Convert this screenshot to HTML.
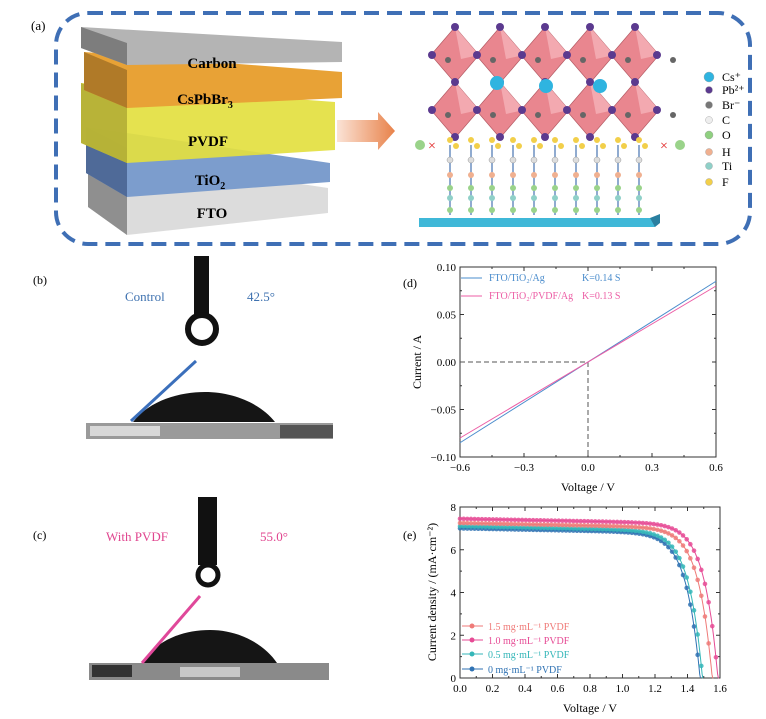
<!DOCTYPE html>
<html><head><meta charset="utf-8"><style>
html,body{margin:0;padding:0;background:#fff;}
svg{display:block;font-family:"Liberation Serif",serif;}
</style></head><body>
<svg id="s" width="766" height="719" viewBox="0 0 766 719" xmlns="http://www.w3.org/2000/svg">
<defs>
<linearGradient id="ar" x1="0" x2="1"><stop offset="0" stop-color="#fbe3d6"/><stop offset="1" stop-color="#e8824a"/></linearGradient>
</defs>
<text x="31" y="30" font-size="13">(a)</text>
<rect x="56" y="13" width="694" height="231" rx="32" fill="none" stroke="#3f6fb5" stroke-width="4" stroke-dasharray="15,8"/>
<polygon points="88,152 328,188 328,213 127,235 88,207" fill="#dcdcdc"/>
<polygon points="88,152 127,172 127,235 88,207" fill="#8f8f8f"/>
<polygon points="86,127 330,163 330,182 127,197 86,173" fill="#7c9dcd"/>
<polygon points="86,127 127,148 127,197 86,173" fill="#4f6a98"/>
<polygon points="81,83 335,102 335,150 127,163 81,143" fill="#e3e040" opacity="0.92"/>
<polygon points="81,83 127,100 127,163 81,143" fill="#b3ae35" opacity="0.9"/>
<polygon points="84,52 342,72 342,98 127,108 84,90" fill="#e8a236"/>
<polygon points="84,52 127,70 127,108 84,90" fill="#b07a28"/>
<polygon points="81,27 342,42 342,62 127,65 81,48" fill="#b4b4b4"/>
<polygon points="81,27 127,43 127,65 81,48" fill="#7d7d7d"/>
<g font-weight="bold" font-size="15" text-anchor="middle">
<text x="212" y="68">Carbon</text>
<text x="205" y="104">CsPbBr<tspan font-size="10" dy="4">3</tspan></text>
<text x="208" y="146">PVDF</text>
<text x="210" y="185">TiO<tspan font-size="10" dy="4">2</tspan></text>
<text x="212" y="218">FTO</text>
</g>
<polygon points="337,120 378,120 378,112 395,131 378,150 378,142 337,142" fill="url(#ar)"/>
<g id="crys"></g>
<rect x="419" y="218" width="236" height="9" fill="#3fb8d8"/>
<polygon points="650,218 660,214 660,223 655,227" fill="#2a7fa0"/>
<g id="leg" font-size="12"></g>
<text x="33" y="284" font-size="12">(b)</text>
<text x="125" y="301" font-size="13" fill="#3f72b0">Control</text>
<text x="247" y="301" font-size="13" fill="#3f72b0">42.5°</text>
<rect x="194" y="256" width="15" height="62" fill="#111"/>
<circle cx="202" cy="329" r="14" fill="none" stroke="#111" stroke-width="6"/>
<path d="M133,422 C150,400 180,392 205,392 C235,392 262,405 275,422 Z" fill="#151515"/>
<rect x="86" y="423" width="247" height="16" fill="#9a9a9a"/>
<rect x="90" y="426" width="70" height="10" fill="#d8d8d8"/>
<rect x="280" y="425" width="53" height="13" fill="#555"/>
<line x1="196" y1="361" x2="131" y2="421" stroke="#3b6fbb" stroke-width="3"/>
<text x="33" y="539" font-size="12">(c)</text>
<text x="106" y="541" font-size="13" fill="#e0458f">With PVDF</text>
<text x="260" y="541" font-size="13" fill="#e0458f">55.0°</text>
<rect x="198" y="497" width="19" height="68" fill="#111"/>
<circle cx="208" cy="575" r="10" fill="none" stroke="#111" stroke-width="5"/>
<path d="M142,663 C155,642 180,630 210,630 C240,630 265,645 277,663 Z" fill="#151515"/>
<rect x="89" y="663" width="240" height="17" fill="#8a8a8a"/>
<rect x="180" y="667" width="60" height="10" fill="#c8c8c8"/>
<rect x="92" y="665" width="40" height="12" fill="#333"/>
<line x1="200" y1="596" x2="142" y2="663" stroke="#e0489a" stroke-width="3"/>
<g id="d"></g>
<g id="e"></g>
</svg>
<script>
var NS="http://www.w3.org/2000/svg";
function el(p,t,a,txt){var e=document.createElementNS(NS,t);for(var k in a)e.setAttribute(k,a[k]);if(txt!=null)e.textContent=txt;p.appendChild(e);return e;}
var c=document.getElementById('crys');
for(var r=0;r<2;r++)for(var i=0;i<5;i++){
 var cx=455+i*45,cy=55+r*55;
 el(c,'polygon',{points:(cx)+','+(cy-28)+' '+(cx+24)+','+cy+' '+cx+','+(cy+28)+' '+(cx-24)+','+cy,fill:'#e9868f',stroke:'#b45a64','stroke-width':0.7});
 el(c,'polygon',{points:(cx)+','+(cy-28)+' '+(cx+24)+','+cy+' '+(cx+6)+','+(cy+4),fill:'#f3a9b0'});
}
for(var r=0;r<3;r++)for(var i=0;i<5;i++){var cx=455+i*45,cy=27+r*55;el(c,'circle',{cx:cx,cy:cy,r:4,fill:'#5b3a8f'});}
for(var r=0;r<2;r++)for(var i=0;i<6;i++){var cx=432+i*45,cy=55+r*55;el(c,'circle',{cx:cx,cy:cy,r:4,fill:'#5b3a8f'});el(c,'circle',{cx:cx+16,cy:cy+5,r:3,fill:'#666'});}
[[497,83],[546,86],[600,86]].forEach(function(p){el(c,'circle',{cx:p[0],cy:p[1],r:7,fill:'#2fb4e0'});});
for(var i=0;i<10;i++){var x=450+i*21;
 el(c,'line',{x1:x,y1:145,x2:x,y2:215,stroke:'#6a8fc0','stroke-width':1.5});
 el(c,'circle',{cx:x,cy:140,r:3,fill:'#f2cf4a'});el(c,'circle',{cx:x+6,cy:146,r:3,fill:'#f2cf4a'});
 el(c,'circle',{cx:x,cy:160,r:3,fill:'#ddd',stroke:'#999','stroke-width':0.5});
 el(c,'circle',{cx:x,cy:175,r:3,fill:'#f0b090'});
 el(c,'circle',{cx:x,cy:188,r:3,fill:'#9ad38a'});el(c,'circle',{cx:x,cy:198,r:3,fill:'#8fd0c8'});el(c,'circle',{cx:x,cy:210,r:3,fill:'#9ad38a'});}
el(c,'circle',{cx:420,cy:145,r:5,fill:'#9ad38a'});el(c,'text',{x:428,y:150,fill:'#e02020','font-size':14},'×');
el(c,'circle',{cx:680,cy:145,r:5,fill:'#9ad38a'});el(c,'text',{x:660,y:150,fill:'#e02020','font-size':14},'×');
var L=document.getElementById('leg');
[['#2fb4e0',5,'Cs⁺'],['#5b3a8f',3.5,'Pb²⁺'],['#777',3.5,'Br⁻'],['#eee',3.5,'C'],['#8fd080',4,'O'],['#f0b090',3.5,'H'],['#8fd0c8',3.5,'Ti'],['#f2cf4a',3.5,'F']].forEach(function(a,i){var y=[77,90,105,120,135,152,166,182][i];el(L,'circle',{cx:709,cy:y,r:a[1],fill:a[0],stroke:'#999','stroke-width':0.4});el(L,'text',{x:722,y:y+4},a[2]);});
var D=document.getElementById('d');
function axes(G,x0,x1,y0,y1){el(G,'rect',{x:x0,y:y0,width:x1-x0,height:y1-y0,fill:'none',stroke:'#333','stroke-width':1});}
var dx0=460,dx1=716,dy0=267,dy1=457;
function dX(v){return dx0+(v+0.6)/1.2*(dx1-dx0);} function dY(v){return dy1-(v+0.1)/0.2*(dy1-dy0);}
el(D,'text',{x:403,y:287,'font-size':12},'(d)');
axes(D,dx0,dx1,dy0,dy1);
for(var v=-0.6;v<=0.601;v+=0.15){var x=dX(v),mj=Math.abs(Math.round(v/0.3)*0.3-v)<1e-6;el(D,'line',{x1:x,y1:dy1,x2:x,y2:dy1-(mj?4:2),stroke:'#333'});el(D,'line',{x1:x,y1:dy0,x2:x,y2:dy0+(mj?4:2),stroke:'#333'});if(mj)el(D,'text',{x:x,y:dy1+14,'font-size':11,'text-anchor':'middle'},(v<-1e-6?'\u22120':'0')+'.'+Math.round(Math.abs(v)*10));}
for(var v=-0.1;v<=0.1001;v+=0.025){var y=dY(v),mj=Math.abs(Math.round(v/0.05)*0.05-v)<1e-6;el(D,'line',{x1:dx0,y1:y,x2:dx0+(mj?4:2),y2:y,stroke:'#333'});el(D,'line',{x1:dx1,y1:y,x2:dx1-(mj?4:2),y2:y,stroke:'#333'});if(mj){var s=Math.abs(v).toFixed(2);el(D,'text',{x:dx0-4,y:y+4,'font-size':11,'text-anchor':'end'},(v<-1e-6?'\u2212':'')+s);}}
el(D,'polyline',{points:dx0+','+dY(0)+' '+dX(0)+','+dY(0)+' '+dX(0)+','+dy1,fill:'none',stroke:'#555','stroke-dasharray':'5,3'});
el(D,'line',{x1:dx0,y1:dY(-0.085),x2:dx1,y2:dY(0.085),stroke:'#4a8ccc','stroke-width':1});
el(D,'line',{x1:dx0,y1:dY(-0.08),x2:dx1,y2:dY(0.08),stroke:'#ec5ea5','stroke-width':1});
el(D,'line',{x1:461,y1:278,x2:482,y2:278,stroke:'#4a8ccc'});el(D,'line',{x1:461,y1:296,x2:482,y2:296,stroke:'#ec5ea5'});
el(D,'text',{x:489,y:281,'font-size':10,fill:'#4a8ccc'},'FTO/TiO\u2082/Ag');el(D,'text',{x:582,y:281,'font-size':10,fill:'#4a8ccc'},'K=0.14 S');
el(D,'text',{x:489,y:299,'font-size':10,fill:'#ec5ea5'},'FTO/TiO\u2082/PVDF/Ag');el(D,'text',{x:582,y:299,'font-size':10,fill:'#ec5ea5'},'K=0.13 S');
el(D,'text',{x:588,y:491,'font-size':12,'text-anchor':'middle'},'Voltage / V');
el(D,'text',{x:421,y:362,'font-size':12,'text-anchor':'middle',transform:'rotate(-90 421 362)'},'Current / A');
var E=document.getElementById('e');
var ex0=460,ex1=720,ey0=507,ey1=678;
function eX(v){return ex0+v/1.6*(ex1-ex0);} function eY(v){return ey1-v/8*(ey1-ey0);}
el(E,'text',{x:403,y:539,'font-size':12},'(e)');
axes(E,ex0,ex1,ey0,ey1);
for(var v=0;v<=1.601;v+=0.1){var x=eX(v),mj=Math.round(v*10)%2==0;el(E,'line',{x1:x,y1:ey1,x2:x,y2:ey1-(mj?4:2),stroke:'#333'});el(E,'line',{x1:x,y1:ey0,x2:x,y2:ey0+(mj?4:2),stroke:'#333'});if(mj)el(E,'text',{x:x,y:ey1+14,'font-size':11,'text-anchor':'middle'},v.toFixed(1));}
for(var v=0;v<=8;v+=1){var y=eY(v),mj=v%2==0;el(E,'line',{x1:ex0,y1:y,x2:ex0+(mj?4:2),y2:y,stroke:'#333'});el(E,'line',{x1:ex1,y1:y,x2:ex1-(mj?4:2),y2:y,stroke:'#333'});if(mj)el(E,'text',{x:ex0-4,y:y+4,'font-size':11,'text-anchor':'end'},''+v);}
var S=[['#ef7a78',7.25,1.555],['#e64b95',7.45,1.59],['#34b6b8',7.1,1.495],['#2f72b3',7.0,1.48]];
S.slice().reverse().forEach(function(s){var a=0.085,J0=s[1]/(Math.exp(s[2]/a)-1),pts=[];
 function f(V){return s[1]-J0*(Math.exp(V/a)-1)-0.15*V;}
 var voc=s[2];
 for(var V=0;V<=voc;V+=0.005){var J=f(V);if(J<0)J=0;pts.push(eX(V).toFixed(1)+','+eY(J).toFixed(1));}
 pts.push(eX(voc)+','+eY(0));
 el(E,'polyline',{points:pts.join(' '),fill:'none',stroke:s[0],'stroke-width':1});
 for(var V=0;V<=voc-0.005;V+=0.0225){var J=f(V);if(J<0.3)continue;el(E,'circle',{cx:eX(V),cy:eY(J),r:2.3,fill:s[0],opacity:0.85});}
});
var lab=['1.5 mg\u00b7mL\u207b\u00b9 PVDF','1.0 mg\u00b7mL\u207b\u00b9 PVDF','0.5 mg\u00b7mL\u207b\u00b9 PVDF','0 mg\u00b7mL\u207b\u00b9 PVDF'];
[626,640,654,669].forEach(function(y,i){el(E,'line',{x1:462,y1:y,x2:483,y2:y,stroke:S[i][0]});el(E,'circle',{cx:472,cy:y,r:2.5,fill:S[i][0]});el(E,'text',{x:488,y:y+4,'font-size':10,fill:S[i][0]},lab[i]);});
el(E,'text',{x:590,y:712,'font-size':12,'text-anchor':'middle'},'Voltage / V');
el(E,'text',{x:436,y:592,'font-size':12,'text-anchor':'middle',transform:'rotate(-90 436 592)'},'Current density / (mA\u00b7cm\u207b\u00b2)');
</script>
</body></html>
